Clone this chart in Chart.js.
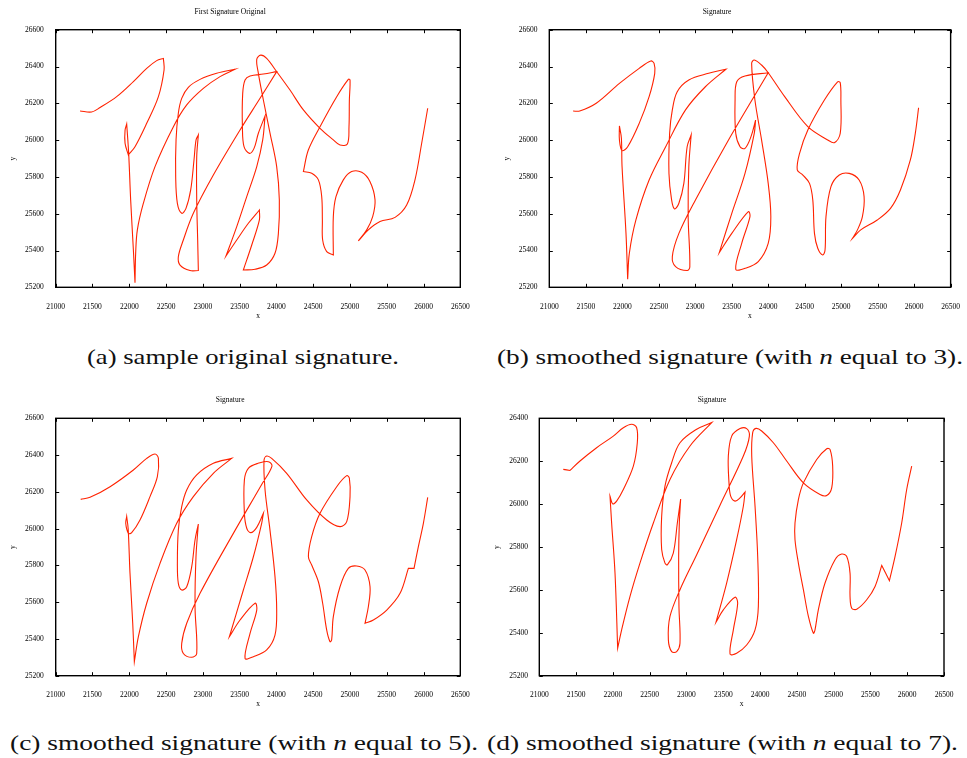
<!DOCTYPE html>
<html>
<head>
<meta charset="utf-8">
<script src="https://cdn.jsdelivr.net/npm/chart.js@4.4.1/dist/chart.umd.min.js"></script>
<style>
  body { margin: 0; background: #fff; }
  #page { position: relative; width: 967px; height: 758px; overflow: hidden; }
  canvas { position: absolute; }
  .cap { position: absolute; font-family: "Liberation Serif", "Times New Roman", Times, serif; font-size: 21px; line-height: 24px; white-space: nowrap; color: #111; }
  .cap span { display: inline-block; transform-origin: 0 50%; }
</style>
</head>
<body>
<div id="page">
  <canvas id="pa" width="480" height="330" style="left:0;top:0"></canvas>
  <canvas id="pb" width="487" height="330" style="left:480px;top:0"></canvas>
  <canvas id="pc" width="480" height="330" style="left:0;top:390px"></canvas>
  <canvas id="pd" width="487" height="330" style="left:480px;top:390px"></canvas>
  <div class="cap" data-w="312" style="left:87px;top:345px"><span>(a) sample original signature.</span></div>
  <div class="cap" data-w="466" style="left:497px;top:345px"><span>(b) smoothed signature (with <i>n</i> equal to 3).</span></div>
  <div class="cap" data-w="468" style="left:10px;top:731px"><span>(c) smoothed signature (with <i>n</i> equal to 5).</span></div>
  <div class="cap" data-w="471" style="left:487px;top:731px"><span>(d) smoothed signature (with <i>n</i> equal to 7).</span></div>
</div>
<script>
// x range shared by every panel
const xMin = 21000, xMax = 26500, xStep = 500;
const yStep = 200;

// pen trace, original signature (points repeated at sharp turns)
const sigOriginal = [
  [21331,26158],[21489,26153],[21603,26177],[21829,26236],[22056,26318],[22237,26390],[22373,26432],
  [22464,26444],[22464,26444],[22473,26381],[22396,26236],[22237,26091],[22078,25964],
  [21988,25919],[21988,25919],[21943,25982],[21943,26055],[21965,26087],[21965,26087],
  [21992,25928],[22019,25675],[22056,25403],[22078,25225],[22078,25225],
  [22087,25385],[22110,25512],[22192,25657],[22350,25856],[22600,26073],[22781,26191],[23007,26281],[23234,26345],
  [23438,26385],[23438,26385],[23188,26363],[22962,26330],[22803,26287],[22713,26227],[22667,26146],
  [22636,26001],[22631,25802],[22654,25656],[22713,25602],[22771,25629],[22835,25729],[22880,25892],[22908,26001],
  [22939,26028],[22939,26028],[22917,25910],[22917,25675],[22930,25457],[22939,25291],[22939,25291],
  [22826,25291],[22690,25321],[22667,25366],[22735,25457],[22871,25602],[23143,25810],[23506,26055],[23778,26227],
  [24004,26372],[24004,26372],[23823,26359],[23642,26348],[23574,26327],[23542,26254],[23538,26073],
  [23560,25964],[23633,25928],[23696,25955],[23755,26037],[23846,26131],[23846,26131],
  [23814,26001],[23733,25856],[23597,25693],[23461,25530],[23315,25370],[23315,25370],
  [23461,25457],[23619,25548],[23769,25620],[23769,25620],[23769,25566],[23665,25430],[23551,25294],[23551,25294],
  [23710,25298],[23868,25321],[23981,25385],[24027,25493],[24040,25675],[24004,25856],[23914,26037],[23823,26218],
  [23755,26363],[23733,26439],[23787,26462],[23868,26444],[24004,26372],[24185,26272],[24367,26164],[24593,26064],
  [24774,26001],[24865,25973],[24965,25979],[24987,26073],[24992,26218],[25001,26327],[24978,26330],
  [24820,26236],[24593,26073],[24434,25946],[24367,25829],[24367,25829],[24480,25820],[24571,25784],
  [24616,25693],[24625,25566],[24629,25457],[24684,25394],[24774,25376],[24774,25376],[24774,25584],
  [24810,25693],[24910,25784],[25023,25829],[25160,25825],[25273,25774],[25341,25675],[25309,25584],
  [25228,25512],[25114,25452],[25114,25452],[25250,25512],[25409,25557],[25613,25580],[25771,25647],
  [25884,25784],[25975,25983],[26057,26173]
];

// smoothed with n = 3
const sigSmooth3 = [
  [21326,26158],[21417,26158],[21643,26200],[21961,26308],[22232,26390],[22391,26430],[22436,26417],
  [22445,26363],[22368,26236],[22232,26091],[22074,25964],[21997,25943],[21961,26001],[21961,26077],[21961,26077],
  [21988,26010],[21997,25856],[22051,25493],[22074,25244],[22074,25244],[22097,25385],[22187,25566],[22368,25783],
  [22595,25964],[22867,26164],[23139,26290],[23420,26385],[23420,26385],[23184,26363],[22912,26327],[22753,26263],
  [22686,26164],[22649,26037],[22640,25819],[22676,25675],[22717,25626],[22776,25657],[22844,25765],[22889,25964],
  [22944,26028],[22944,26028],[22912,25856],[22903,25584],[22926,25312],[22889,25291],[22731,25312],[22686,25367],
  [22776,25493],[23003,25675],[23456,26001],[24000,26366],[24000,26366],[23682,26348],[23569,26317],[23546,26218],
  [23555,26037],[23614,25964],[23682,25955],[23764,26019],[23827,26109],[23827,26109],[23809,26037],[23682,25819],
  [23501,25602],[23329,25388],[23329,25388],[23501,25493],[23728,25611],[23750,25584],[23637,25439],[23555,25298],
  [23682,25303],[23864,25340],[24000,25439],[24036,25584],[24000,25765],[23909,26001],[23818,26218],[23773,26417],
  [23809,26435],[23909,26408],[24000,26366],[24226,26236],[24543,26073],[24815,26001],[24906,25986],[24987,26037],
  [24996,26218],[24987,26312],[24951,26317],[24770,26218],[24543,26055],[24430,25928],[24398,25838],[24475,25810],
  [24566,25765],[24611,25675],[24634,25493],[24679,25412],[24747,25376],[24779,25403],[24792,25584],[24860,25747],
  [24974,25810],[25110,25819],[25246,25783],[25314,25693],[25291,25584],[25223,25512],[25155,25466],[25155,25466],
  [25268,25512],[25495,25566],[25676,25629],[25812,25729],[25948,25892],[26016,26037],[26061,26176]
];

// smoothed with n = 5
const sigSmooth5 = [
  [21340,26159],[21467,26170],[21739,26228],[22056,26319],[22237,26382],[22350,26406],[22396,26382],
  [22382,26283],[22282,26174],[22146,26047],[22033,25978],[21988,25974],[21952,26029],[21965,26065],[21965,26065],
  [21985,26000],[22010,25757],[22047,25485],[22069,25276],[22069,25276],[22124,25412],[22237,25594],[22418,25811],
  [22645,26029],[22871,26174],[23143,26301],[23392,26382],[23392,26382],[23143,26355],[22917,26292],[22781,26210],
  [22713,26119],[22667,25992],[22654,25811],[22667,25702],[22713,25666],[22781,25684],[22849,25793],[22894,25938],
  [22939,26025],[22939,26025],[22907,25847],[22894,25575],[22917,25321],[22849,25300],[22735,25321],[22713,25376],
  [22781,25485],[22962,25648],[23415,25974],[23800,26240],[23940,26340],[23891,26364],[23750,26355],[23619,26328],
  [23565,26265],[23565,26083],[23597,26002],[23651,25978],[23733,26007],[23823,26083],[23823,26083],[23800,26029],
  [23687,25847],[23551,25666],[23361,25412],[23361,25412],[23506,25503],[23710,25594],[23733,25557],[23642,25430],
  [23574,25294],[23687,25303],[23868,25340],[23981,25421],[24004,25557],[23981,25739],[23913,25992],[23846,26210],
  [23832,26373],[23868,26395],[23936,26382],[24140,26301],[24412,26156],[24684,26047],[24865,26011],[24956,26038],
  [25001,26174],[24992,26274],[24956,26288],[24820,26228],[24593,26083],[24480,25956],[24435,25847],[24480,25802],
  [24571,25711],[24629,25594],[24684,25448],[24729,25385],[24751,25394],[24774,25521],[24865,25684],[24978,25784],
  [25091,25797],[25205,25775],[25273,25684],[25250,25575],[25205,25485],[25205,25485],[25318,25503],[25500,25557],
  [25681,25648],[25794,25784],[25794,25784],[25871,25784],[25871,25784],[25930,25902],[25998,26029],[26057,26170]
];

// smoothed with n = 7
const sigSmooth7 = [
  [21326,26162],[21417,26157],[21417,26157],[21553,26201],[21779,26263],[22006,26317],[22142,26356],[22255,26372],
  [22323,26356],[22332,26286],[22278,26177],[22142,26068],[22051,26014],[21997,26001],[21961,26037],[21961,26037],
  [21983,25912],[22029,25678],[22065,25328],[22065,25328],[22119,25414],[22232,25569],[22368,25725],[22550,25912],
  [22776,26115],[23048,26271],[23343,26380],[23343,26380],[23139,26349],[22912,26286],[22799,26193],[22708,26084],
  [22663,25943],[22663,25788],[22708,25725],[22740,25717],[22821,25772],[22876,25912],[22921,26024],[22921,26024],
  [22903,25912],[22894,25756],[22898,25523],[22912,25351],[22867,25312],[22799,25312],[22754,25367],[22776,25476],
  [22912,25601],[23139,25764],[23456,25995],[23773,26224],[23855,26317],[23818,26352],[23728,26352],[23615,26317],
  [23569,26224],[23578,26099],[23601,26037],[23660,26014],[23728,26029],[23796,26056],[23796,26056],[23773,25990],
  [23682,25834],[23546,25632],[23401,25449],[23401,25449],[23501,25507],[23660,25566],[23696,25538],[23637,25414],
  [23592,25301],[23682,25305],[23818,25343],[23932,25414],[23977,25523],[23968,25756],[23932,25990],[23887,26224],
  [23900,26333],[23945,26353],[24022,26341],[24181,26286],[24362,26201],[24589,26099],[24815,26045],[24906,26040],
  [24974,26076],[24987,26177],[24951,26255],[24906,26258],[24770,26208],[24589,26099],[24521,26021],[24475,25912],
  [24475,25834],[24521,25725],[24589,25601],[24657,25476],[24725,25398],[24747,25414],[24792,25507],[24883,25632],
  [25019,25741],[25110,25767],[25178,25756],[25223,25678],[25223,25569],[25246,25515],[25314,25510],[25450,25554],
  [25563,25616],[25654,25714],[25654,25714],[25758,25643],[25758,25643],[25835,25756],[25925,25912],[25993,26068],
  [26061,26177]
];

// inward gnuplot-style ticks on all four sides plus the box
const frame = {
  id: 'frame',
  afterDraw(chart) {
    const { ctx, chartArea: a, scales: { x, y } } = chart;
    ctx.save();
    ctx.strokeStyle = '#000';
    ctx.lineWidth = 1;
    ctx.beginPath();
    x.ticks.forEach(t => {
      const p = Math.round(x.getPixelForValue(t.value)) + 0.5;
      ctx.moveTo(p, a.bottom); ctx.lineTo(p, a.bottom - 3.5);
      ctx.moveTo(p, a.top); ctx.lineTo(p, a.top + 3.5);
    });
    y.ticks.forEach(t => {
      const p = Math.round(y.getPixelForValue(t.value)) + 0.5;
      ctx.moveTo(a.left, p); ctx.lineTo(a.left + 3.5, p);
      ctx.moveTo(a.right, p); ctx.lineTo(a.right - 3.5, p);
    });
    ctx.stroke();
    ctx.lineWidth = 1.4;
    ctx.strokeRect(a.left, a.top, a.right - a.left, a.bottom - a.top);
    ctx.restore();
  }
};

const serif = "'Liberation Serif', 'Times New Roman', Times, serif";

function makePanel(id, title, points, yMin, yMax, g) {
  const h = 330;
  new Chart(document.getElementById(id), {
    type: 'scatter',
    data: {
      datasets: [{
        data: points.map(p => ({ x: p[0], y: p[1] })),
        showLine: true,
        borderColor: '#ff2200',
        borderWidth: 1.1,
        pointRadius: 0,
        tension: 0.35
      }]
    },
    options: {
      responsive: false,
      animation: false,
      devicePixelRatio: 1,
      layout: { padding: { left: 0, top: 0, bottom: 0, right: g.w - g.right } },
      plugins: {
        legend: { display: false },
        tooltip: { enabled: false },
        title: {
          display: true,
          text: title,
          color: '#000',
          font: { family: serif, size: 7.5, weight: 'normal' },
          padding: { top: g.titleY - 4.5, bottom: g.top - 9 - (g.titleY - 4.5) }
        }
      },
      scales: {
        x: {
          type: 'linear',
          min: xMin, max: xMax,
          grid: { display: false },
          border: { display: false },
          ticks: { stepSize: xStep, autoSkip: false, maxRotation: 0, padding: 7,
                   color: '#000', font: { family: serif, size: 7.5 },
                   callback: v => String(v) },
          title: { display: true, text: 'x', color: '#000',
                   font: { family: serif, size: 7.5 }, padding: { top: 0, bottom: g.xTitle } },
          afterFit: s => { s.height = h - g.bottom; }
        },
        y: {
          type: 'linear',
          min: yMin, max: yMax,
          grid: { display: false },
          border: { display: false },
          ticks: { stepSize: yStep, autoSkip: false, padding: g.yPad,
                   color: '#000', font: { family: serif, size: 7.5 },
                   callback: v => String(v) },
          title: { display: true, text: 'y', color: '#000',
                   font: { family: serif, size: 7.5 }, padding: { top: g.yTitle, bottom: 0 } },
          afterFit: s => { s.width = g.left; }
        }
      }
    },
    plugins: [frame]
  });
}

makePanel('pa', 'First Signature Original', sigOriginal, 25200, 26600,
  { w: 480, left: 55.7, right: 460.3, top: 29.7, bottom: 287.3, titleY: 12, yPad: 4, xTitle: 9.5, yTitle: 8.8 });
makePanel('pb', 'Signature', sigSmooth3, 25200, 26600,
  { w: 487, left: 69.3, right: 474, top: 29.7, bottom: 287.3, titleY: 12, yPad: 3.7, xTitle: 9.5, yTitle: 22.2 });
makePanel('pc', 'Signature', sigSmooth5, 25200, 26600,
  { w: 480, left: 55.7, right: 460.3, top: 28.3, bottom: 285.7, titleY: 10.3, yPad: 4, xTitle: 11.2, yTitle: 8.8 });
makePanel('pd', 'Signature', sigSmooth7, 25200, 26400,
  { w: 487, left: 59.3, right: 464, top: 28.3, bottom: 285.7, titleY: 10.3, yPad: 3.3, xTitle: 11.2, yTitle: 12.2 });

// stretch captions to the measured widths of the reference
document.querySelectorAll('.cap').forEach(el => {
  const span = el.firstElementChild;
  const w = span.getBoundingClientRect().width;
  span.style.transform = 'scaleX(' + (el.dataset.w / w) + ')';
});
</script>
</body>
</html>
